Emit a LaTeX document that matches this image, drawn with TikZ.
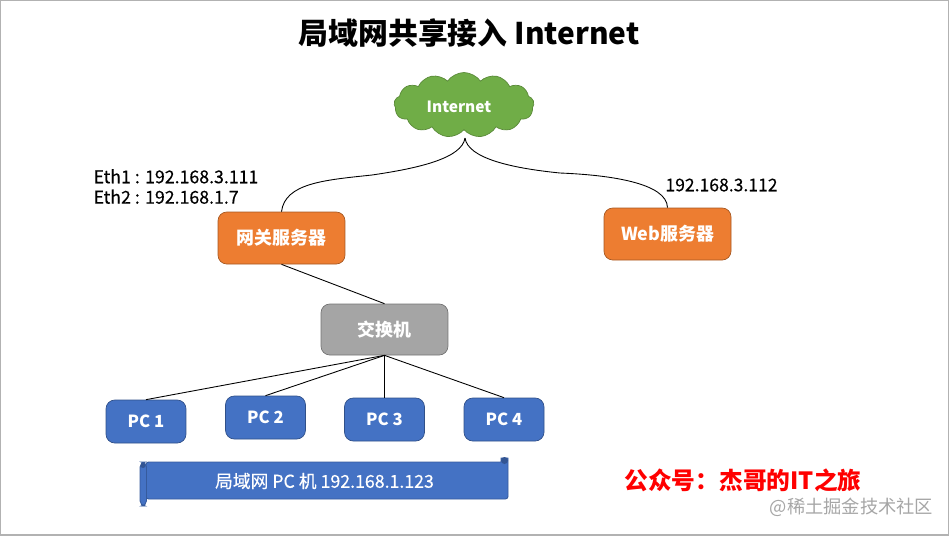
\documentclass[tikz,border=0pt]{standalone}
\usepackage{fontspec}
\setmainfont{Noto Sans CJK SC}
\newfontfamily\medfont[FakeBold=0.3]{Noto Sans CJK SC}
\usetikzlibrary{positioning, arrows, shapes.symbols}

\tikzset{
 box/.style={draw=#1!70!black, fill=#1, rounded corners=5pt, text=white, font=\bfseries\fontsize{10.2}{11}\selectfont, inner sep=0pt},
 box/.default=blue,
 label/.style={font=\medfont\fontsize{10}{11.6}\selectfont, align=left, text=black},
 link/.style={draw=black, line width=0.5pt}
}
\definecolor{orangebox}{HTML}{ED7D31}
\definecolor{graybox}{HTML}{A5A5A5}
\definecolor{bluebox}{HTML}{4472C4}
\definecolor{greencloud}{HTML}{70AD47}

\begin{document}
\begin{tikzpicture}[x=0.02cm, y=-0.02cm]
 \useasboundingbox (0,0) rectangle (949,535);
 \draw[black!30, line width=0.6pt] (0,0) rectangle (949,535);

 \node[font=\bfseries\fontsize{17}{20}\selectfont] (title) at (469,33) {局域网共享接入 Internet};

 \node[cloud, cloud puffs=13, cloud puff arc=110, aspect=2.6, draw=greencloud!80!black, fill=greencloud, text=white, font=\bfseries\fontsize{8.8}{11}\selectfont, inner sep=0pt, minimum width=2.8cm, minimum height=1.3cm] (internet) at (464,105) {\raisebox{-4.3pt}[0pt][0pt]{Internet}\hspace{0.2cm}\mbox{}};

 \node[box=orangebox, minimum width=2.54cm, minimum height=1.04cm] (gateway) at (281.5,238) {\raisebox{-1pt}{网关服务器}};
 \node[box=orangebox, minimum width=2.54cm, minimum height=1.04cm] (web) at (667.5,234) {\raisebox{-1pt}{Web服务器}};
 \node[box=graybox, minimum width=2.54cm, minimum height=1.02cm] (switch) at (384.5,329.5) {\raisebox{-1pt}{交换机}};

 \node[label, font=\medfont\fontsize{10.1}{11.6}\selectfont] (eth) at (176,186.5) {Eth1 : 192.168.3.111\\Eth2 : 192.168.1.7};
 \node[label] (webip) at (721.5,185) {192.168.3.112};

 \coordinate (fork) at (465,138);
 \draw[link] (fork) .. controls (462,158) and (420,168) .. (372,175) .. controls (325,180) and (285,183) .. (gateway.north);
 \draw[link] (fork) .. controls (468,158) and (510,168) .. (560,173) .. controls (610,175) and (667,183) .. (web.north);
 \draw[link] (gateway.south) -- (switch.north);

 \foreach \name/\x/\y/\pc in {pca/146/421.5/PC 1, pcb/265.5/417.5/PC 2, pcc/384.5/419.5/PC 3, pcd/504/419.5/PC 4} {
  \node[box=bluebox, minimum width=1.6cm, minimum height=0.86cm, font=\bfseries\fontsize{9.5}{11}\selectfont] (\name) at (\x,\y) {\raisebox{-2pt}{\pc}};
  \draw[link] (switch.south) -- (\name.north);
 }

 % scroll under the PCs
 \filldraw[draw=bluebox!80!black, fill=bluebox, line width=0.5pt] (146,462) -- (501,462) -- (501,458) -- (508,458) -- (508,497) [rounded corners=1.5pt] -- (508,499) -- (146,499) -- cycle;
 \filldraw[draw=bluebox!80!black, fill=bluebox, line width=0.5pt, rounded corners=3pt] (140,462) rectangle (146.5,506);
 \fill[bluebox!75!black] (504.5,460.5) circle (3.5);
 \fill[bluebox!75!black] (143,465.5) circle (2.5);
 \node[text=white, font=\medfont\fontsize{10.1}{11}\selectfont] (lan) at (324.5,481) {局域网 PC 机 192.168.1.123};

 \node[text=red, font=\bfseries\fontsize{13.5}{15}\selectfont] (account) at (743,480) {公众号：杰哥的IT之旅};
 \node[text=black!35, font=\fontsize{10.4}{12}\selectfont] (mark) at (851.5,507) {@稀土掘金技术社区};
\end{tikzpicture}
\end{document}
